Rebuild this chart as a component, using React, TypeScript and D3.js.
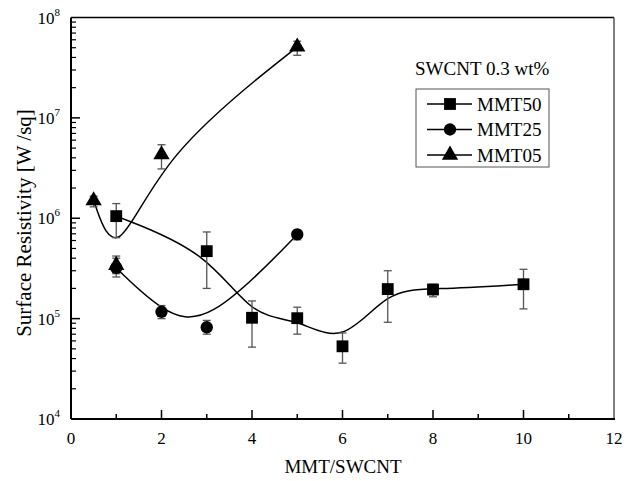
import React, { useEffect, useRef } from 'react';
import * as d3 from 'd3';

const mmt50X = [1, 3, 4, 5, 6, 7, 8, 10];
const mmt50Y = [1.05e6, 4.7e5, 1.02e5, 1.01e5, 5.3e4, 1.97e5, 1.95e5, 2.2e5];
const mmt50Hi = [1.4e6, 7.3e5, 1.5e5, 1.3e5, 7.2e4, 3.0e5, 2.2e5, 3.1e5];
const mmt50Lo = [6.4e5, 2.0e5, 5.2e4, 7.0e4, 3.6e4, 9.2e4, 1.65e5, 1.25e5];

const mmt25X = [1, 2, 3, 5];
const mmt25Y = [3.2e5, 1.17e5, 8.2e4, 6.9e5];
const mmt25Hi = [4.0e5, 1.35e5, 9.6e4, 7.6e5];
const mmt25Lo = [2.6e5, 1.0e5, 7.0e4, 6.1e5];

const mmt05X = [0.5, 1, 2, 5];
const mmt05Y = [1.5e6, 3.4e5, 4.3e6, 5.1e7];
const mmt05Hi = [1.66e6, 4.2e5, 5.4e6, 5.8e7];
const mmt05Lo = [1.3e6, 2.8e5, 3.1e6, 4.2e7];

const seriesNames = ['MMT50', 'MMT25', 'MMT05'];
const xTicks = [0, 2, 4, 6, 8, 10, 12];
const yExps = [4, 5, 6, 7, 8];

const FONT = 'Liberation Serif, DejaVu Serif, serif';

const App = () => {
  const svgRef = useRef<SVGSVGElement>(null);

  useEffect(() => {
    const svg = d3.select(svgRef.current);
    svg.selectAll('*').remove();

    const left = 71, right = 614, top = 17.5, bottom = 419;
    const x = d3.scaleLinear().domain([0, 12]).range([left, right]);
    const y = d3.scaleLog().domain([1e4, 1e8]).range([bottom, top]);

    // frame
    svg.append('line').attr('x1', left).attr('x2', right).attr('y1', top).attr('y2', top)
      .attr('stroke', '#000').attr('stroke-width', 1.5);
    svg.append('line').attr('x1', right).attr('x2', right).attr('y1', top).attr('y2', bottom)
      .attr('stroke', '#555').attr('stroke-width', 1.5);

    // x ticks (major + minor), inward
    d3.range(1, 12, 1).forEach(v => {
      const major = v % 2 === 0;
      svg.append('line').attr('x1', x(v)).attr('x2', x(v))
        .attr('y1', bottom).attr('y2', bottom - (major ? 9 : 5))
        .attr('stroke', '#000').attr('stroke-width', 1.5);
    });
    xTicks.forEach(v => {
      svg.append('text').attr('x', x(v)).attr('y', 444).attr('text-anchor', 'middle')
        .attr('font-family', FONT).attr('font-size', 17).text(v);
    });

    // y ticks, inward, log minor
    yExps.forEach((e, i) => {
      const base = Math.pow(10, e);
      if (i > 0 && i < yExps.length - 1) {
        svg.append('line').attr('x1', left).attr('x2', left + 9)
          .attr('y1', y(base)).attr('y2', y(base)).attr('stroke', '#000').attr('stroke-width', 1.5);
      }
      if (i < yExps.length - 1) {
        d3.range(2, 10).forEach(m => {
          svg.append('line').attr('x1', left).attr('x2', left + 5)
            .attr('y1', y(base * m)).attr('y2', y(base * m)).attr('stroke', '#000').attr('stroke-width', 1.2);
        });
      }
      const t = svg.append('text').attr('x', 60).attr('y', y(base) + 6).attr('text-anchor', 'end')
        .attr('font-family', FONT).attr('font-size', 17);
      t.append('tspan').text('10');
      t.append('tspan').attr('font-size', 11).attr('dy', -8).text(e);
    });

    // axes lines
    svg.append('line').attr('x1', left).attr('x2', left).attr('y1', top).attr('y2', bottom)
      .attr('stroke', '#000').attr('stroke-width', 2);
    svg.append('line').attr('x1', left).attr('x2', right + 1).attr('y1', bottom).attr('y2', bottom)
      .attr('stroke', '#000').attr('stroke-width', 2);

    // axis titles
    svg.append('text').attr('x', 343).attr('y', 473).attr('text-anchor', 'middle')
      .attr('font-family', FONT).attr('font-size', 19).text('MMT/SWCNT');
    svg.append('text').attr('transform', `translate(31,223) rotate(-90)`).attr('text-anchor', 'middle')
      .attr('font-family', FONT).attr('font-size', 21).text('Surface Resistivity [W /sq]');

    const series = [
      { xs: mmt50X, ys: mmt50Y, hi: mmt50Hi, lo: mmt50Lo, shape: 'square' },
      { xs: mmt25X, ys: mmt25Y, hi: mmt25Hi, lo: mmt25Lo, shape: 'circle' },
      { xs: mmt05X, ys: mmt05Y, hi: mmt05Hi, lo: mmt05Lo, shape: 'triangle' },
    ];

    const symbolPath = (shape: string) => {
      if (shape === 'square') return d3.symbol(d3.symbolSquare, 140)();
      if (shape === 'circle') return d3.symbol(d3.symbolCircle, 120)();
      return d3.symbol(d3.symbolTriangle, 115)();
    };

    const lineGen = d3.line<[number, number]>()
      .x(d => x(d[0])).y(d => y(d[1])).curve(d3.curveBasis);

    // smoothed curves
    series.forEach(s => {
      const pts = s.xs.map((v, i) => [v, s.ys[i]] as [number, number]);
      svg.append('path').attr('d', lineGen(pts)).attr('fill', 'none')
        .attr('stroke', '#000').attr('stroke-width', 1.5);
    });

    // error bars
    series.forEach(s => {
      s.xs.forEach((v, i) => {
        const cx = x(v);
        const g = svg.append('g').attr('stroke', '#555').attr('stroke-width', 1.3);
        g.append('line').attr('x1', cx).attr('x2', cx).attr('y1', y(s.hi[i])).attr('y2', y(s.lo[i]));
        [s.hi[i], s.lo[i]].forEach(b => {
          g.append('line').attr('x1', cx - 4).attr('x2', cx + 4).attr('y1', y(b)).attr('y2', y(b));
        });
      });
    });

    // markers
    series.forEach(s => {
      s.xs.forEach((v, i) => {
        svg.append('path').attr('d', symbolPath(s.shape))
          .attr('transform', `translate(${x(v)},${y(s.ys[i])})`).attr('fill', '#000');
      });
    });

    // legend
    svg.append('text').attr('x', 415).attr('y', 75).attr('font-family', FONT).attr('font-size', 19)
      .text('SWCNT 0.3 wt%');
    svg.append('rect').attr('x', 416).attr('y', 89).attr('width', 133).attr('height', 78)
      .attr('fill', 'none').attr('stroke', '#555').attr('stroke-width', 1);
    const shapes = ['square', 'circle', 'triangle'];
    seriesNames.forEach((name, i) => {
      const ly = 104 + i * 25.5;
      svg.append('line').attr('x1', 427).attr('x2', 472).attr('y1', ly).attr('y2', ly)
        .attr('stroke', '#000').attr('stroke-width', 1.3);
      svg.append('path').attr('d', symbolPath(shapes[i]))
        .attr('transform', `translate(450,${ly})`).attr('fill', '#000');
      svg.append('text').attr('x', 477).attr('y', ly + 6.5).attr('font-family', FONT).attr('font-size', 19)
        .text(name);
    });
  }, []);

  return (
    <svg ref={svgRef} width={634} height={481}
      style={{ position: 'absolute', left: 0, top: 0, background: '#fff' }} />
  );
};

export default App;
